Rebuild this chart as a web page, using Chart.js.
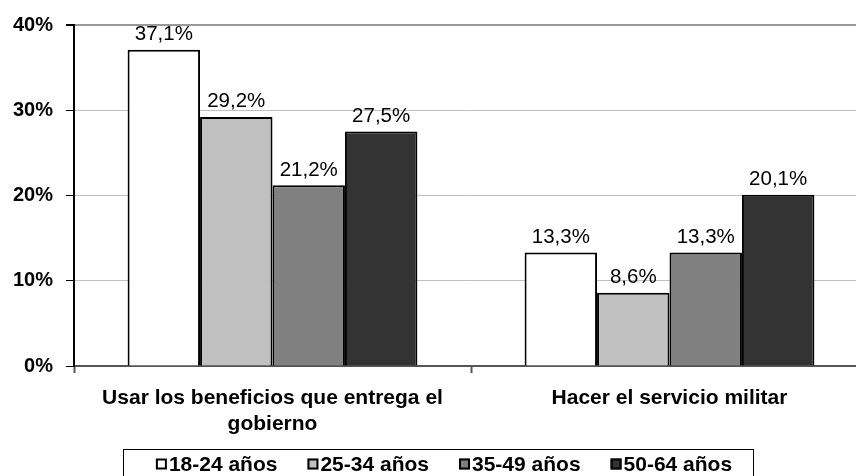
<!DOCTYPE html>
<html>
<head>
<meta charset="utf-8">
<script src="https://cdn.jsdelivr.net/npm/chart.js@4"></script>
<style>
    html, body { margin: 0; padding: 0; background: #fff; }
    #wrap { width: 856px; height: 476px; overflow: hidden; position: relative; }
    #box { width: 868px; height: 476px; }
</style>
</head>
<body>
<div id="wrap"><div id="box"><canvas id="chart"></canvas></div></div>
<script>
// --- DATA ---
const categories = [['Usar los beneficios que entrega el', 'gobierno'], 'Hacer el servicio militar'];
const seriesNames = ['18-24 años', '25-34 años', '35-49 años', '50-64 años'];
const age18to24 = [37.1, 13.3];
const age25to34 = [29.2, 8.6];
const age35to49 = [21.2, 13.3];
const age50to64 = [27.5, 20.1];
const yTicks = [0, 10, 20, 30, 40];

const fills = ['#ffffff', '#c0c0c0', '#808080', '#333333'];
const seriesValues = [age18to24, age25to34, age35to49, age50to64];

const FONT = 'Arial, "Liberation Sans", sans-serif';

// value labels above each bar
const valueLabels = {
    id: 'valueLabels',
    afterDatasetsDraw(chart) {
        const ctx = chart.ctx;
        ctx.save();
        ctx.font = '20.5px ' + FONT;
        ctx.fillStyle = '#000';
        ctx.textAlign = 'center';
        ctx.textBaseline = 'bottom';
        chart.data.datasets.forEach((ds, i) => {
            chart.getDatasetMeta(i).data.forEach((bar, j) => {
                const txt = ds.data[j].toFixed(1).replace('.', ',') + '%';
                ctx.fillText(txt, bar.x, bar.y - 5);
            });
        });
        ctx.restore();
    }
};

// boxed legend along the bottom edge
const boxedLegend = {
    id: 'boxedLegend',
    afterDraw(chart) {
        const ctx = chart.ctx;
        ctx.save();
        ctx.font = 'bold 21px ' + FONT;
        const boxSize = 11, gap = 2, spacing = 30;
        const widths = chart.data.datasets.map(ds => ctx.measureText(ds.label).width);
        const total = widths.reduce((a, w) => a + boxSize + gap + w, 0) + spacing * (widths.length - 1);
        let x = 444 - total / 2;
        const cy = 464;

        ctx.strokeStyle = '#000';
        ctx.lineWidth = 1;
        ctx.strokeRect(123.5, 449.5, 630, 40);

        ctx.textBaseline = 'middle';
        ctx.textAlign = 'left';
        chart.data.datasets.forEach((ds, i) => {
            ctx.fillStyle = ds.backgroundColor;
            ctx.fillRect(x, cy - boxSize / 2, boxSize, boxSize);
            ctx.lineWidth = 2;
            ctx.strokeRect(x + 1, cy - boxSize / 2 + 1, boxSize - 2, boxSize - 2);
            ctx.fillStyle = '#000';
            ctx.fillText(ds.label, x + boxSize + gap, cy + 1);
            x += boxSize + gap + widths[i] + spacing;
        });
        ctx.restore();
    }
};

new Chart(document.getElementById('chart'), {
    type: 'bar',
    data: {
        labels: categories,
        datasets: seriesNames.map((name, i) => ({
            label: name,
            data: seriesValues[i],
            backgroundColor: fills[i],
            borderColor: '#000',
            borderWidth: 2,
            categoryPercentage: 0.73,
            barPercentage: 1.0
        }))
    },
    options: {
        responsive: true,
        maintainAspectRatio: false,
        animation: false,
        layout: { padding: { top: 23, right: 0, bottom: 30, left: 0 } },
        plugins: {
            legend: { display: false },
            tooltip: { enabled: false }
        },
        scales: {
            x: {
                afterFit: (s) => { s.height = 80; },
                grid: {
                    offset: true,
                    drawOnChartArea: false,
                    drawTicks: true,
                    tickLength: 7,
                    tickColor: '#555',
                    tickWidth: 2
                },
                border: { color: '#555', width: 2 },
                ticks: {
                    color: '#000',
                    padding: 12,
                    font: { family: FONT, size: 21, weight: 'bold', lineHeight: 1.25 }
                }
            },
            y: {
                min: 0,
                max: 40,
                afterFit: (s) => { s.width = 74; },
                afterBuildTicks: (s) => { s.ticks = yTicks.map(v => ({ value: v })); },
                grid: {
                    color: (c) => c.tick && c.tick.value === 40 ? '#999' : '#c0c0c0',
                    lineWidth: (c) => c.tick && c.tick.value === 40 ? 2 : 1,
                    drawTicks: true,
                    tickLength: 8,
                    tickColor: '#000'
                },
                border: { color: '#000', width: 2 },
                ticks: {
                    color: '#000',
                    padding: 13,
                    callback: (v) => v + '%',
                    font: { family: FONT, size: 20, weight: 'bold' }
                }
            }
        }
    },
    plugins: [valueLabels, boxedLegend]
});
</script>
</body>
</html>
